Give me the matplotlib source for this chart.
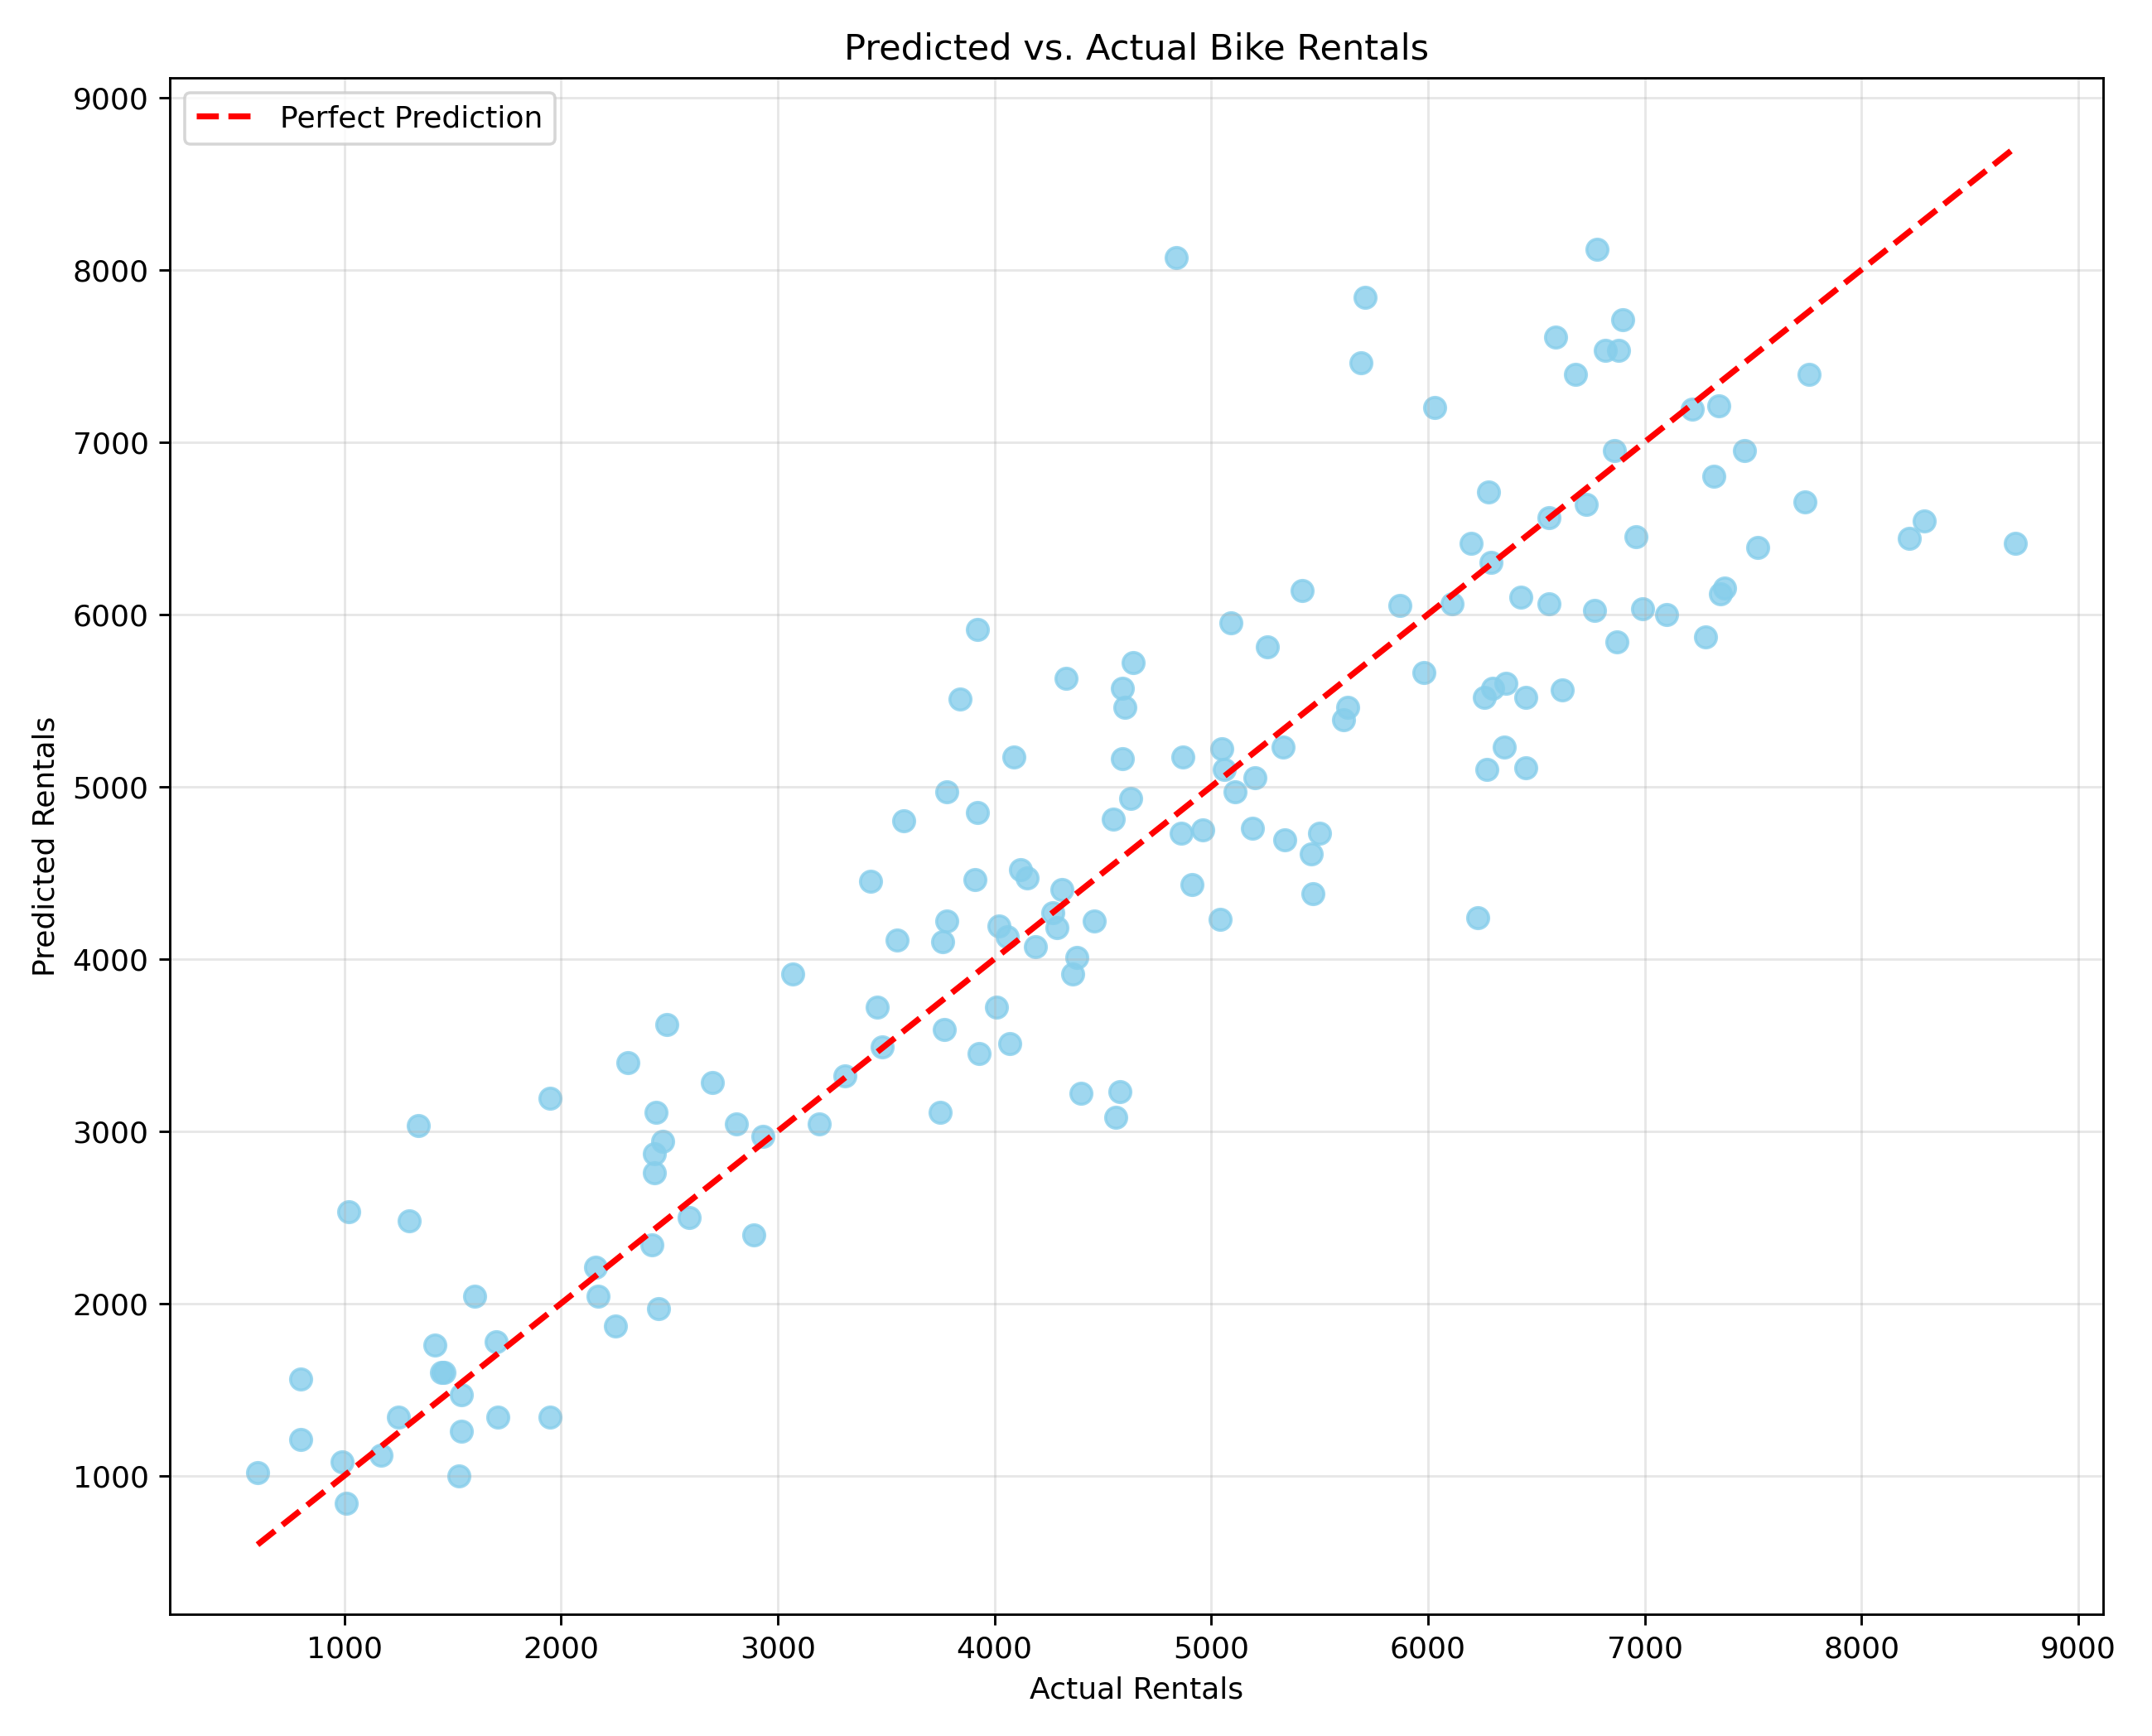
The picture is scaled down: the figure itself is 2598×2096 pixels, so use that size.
import numpy as np
import matplotlib.pyplot as plt

# values
actual = [600, 800, 800, 990, 1010, 1020, 1170, 1250, 1300, 1340, 1420, 1450, 1460, 1540, 1540,
          1530, 1600, 1700, 1710, 1950, 1950, 2160, 2170, 2250, 2310, 2420, 2430, 2440, 2430, 2450,
          2470, 2490, 2590, 2700, 2810, 2890, 2930, 3070, 3190, 3310, 3430, 3460, 3480, 3550, 3580,
          3750, 3760, 3770, 3780, 3780, 3840, 3910, 3920, 3920, 3930, 4010, 4020, 4060, 4070, 4090,
          4120, 4150, 4190, 4270, 4290, 4310, 4330, 4360, 4380, 4400, 4460, 4550, 4560, 4580, 4590,
          4590, 4600, 4630, 4640, 4840, 4860, 4870, 4910, 4960, 5040, 5050, 5060, 5090, 5110, 5190,
          5200, 5260, 5330, 5340, 5420, 5460, 5470, 5500, 5610, 5630, 5690, 5710, 5870, 5980, 6030,
          6110, 6200, 6230, 6260, 6270, 6280, 6290, 6300, 6350, 6360, 6430, 6450, 6450, 6560, 6560,
          6590, 6620, 6680, 6730, 6770, 6780, 6820, 6860, 6870, 6880, 6900, 6960, 6990, 7100, 7220,
          7280, 7320, 7340, 7350, 7370, 7460, 7520, 7740, 7760, 8220, 8290, 8710]
predicted = [1020, 1560, 1210, 1080, 840, 2530, 1120, 1340, 2480, 3030, 1760, 1600, 1600, 1470, 1260,
             1000, 2040, 1780, 1340, 3190, 1340, 2210, 2040, 1870, 3400, 2340, 2870, 3110, 2760, 1970,
             2940, 3620, 2500, 3280, 3040, 2400, 2970, 3910, 3040, 3320, 4450, 3720, 3490, 4110, 4800,
             3110, 4100, 3590, 4970, 4220, 5510, 4460, 4850, 5910, 3450, 3720, 4190, 4130, 3510, 5170,
             4520, 4470, 4070, 4270, 4180, 4400, 5630, 3910, 4010, 3220, 4220, 4810, 3080, 3230, 5570,
             5160, 5460, 4930, 5720, 8070, 4730, 5170, 4430, 4750, 4230, 5220, 5100, 5950, 4970, 4760,
             5050, 5810, 5230, 4690, 6140, 4610, 4380, 4730, 5390, 5460, 7460, 7840, 6050, 5660, 7200,
             6060, 6410, 4240, 5520, 5100, 6710, 6300, 5570, 5230, 5600, 6100, 5520, 5110, 6560, 6060,
             7610, 5560, 7390, 6640, 6020, 8120, 7530, 6950, 5840, 7530, 7710, 6450, 6030, 6000, 7190,
             5870, 6800, 7210, 6120, 6150, 6950, 6390, 6650, 7390, 6440, 6540, 6410]

fig, ax = plt.subplots(figsize=(10, 8.068), dpi=259.8)
ax.scatter(actual, predicted, color='skyblue', alpha=0.8, s=50)
lo, hi = min(actual), max(actual)
ax.plot([lo, hi], [lo, hi], 'r--', linewidth=2, label='Perfect Prediction')
ax.set_xlabel('Actual Rentals')
ax.set_ylabel('Predicted Rentals')
ax.set_title('Predicted vs. Actual Bike Rentals')
ax.legend(loc='upper left')
ax.grid(True, alpha=0.3)
fig.tight_layout()
fig.savefig('out.png')
